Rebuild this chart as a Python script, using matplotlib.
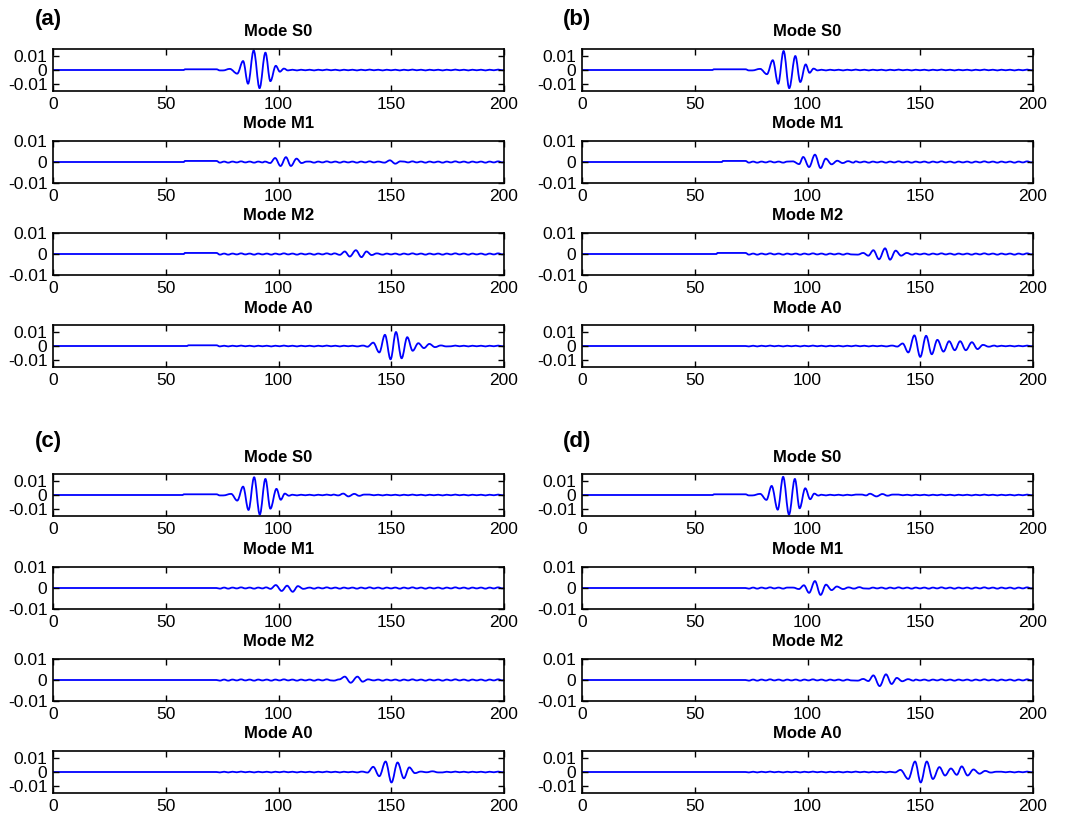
import matplotlib
matplotlib.use("Agg")
import matplotlib.pyplot as plt
from matplotlib.path import Path
from matplotlib.patches import PathPatch

plt.rcParams['font.family'] = ['Liberation Sans', 'DejaVu Sans']
plt.rcParams['axes.unicode_minus'] = False

panel_labels = ['(a)', '(b)', '(c)', '(d)']
mode_names = ['S0', 'M1', 'M2', 'A0']
x_ticks = [0, 50, 100, 150, 200]
y_ticks = [-0.01, 0, 0.01]
y_tick_labels = ['-0.01', '0', '0.01']

# start time of the small offset step before the arrivals (None = no step)
step_a = [58.0, 58.0, 58.0, 59.5]
step_b = [57.9, 62.0, 59.6, None]
step_c = [57.5, None, None, None]
step_d = [58.0, None, None, None]
step_level = 0.0005

# low-level residual ripple that runs along every trace
ripple_t = [74.0, 75.9, 77.7, 79.6, 81.5, 83.4, 85.3, 87.2, 89.2, 91.0, 92.9, 94.8,
            96.8, 98.6, 100.5, 102.4, 104.3, 106.2, 108.2, 110.0, 111.9, 113.8, 115.8,
            117.6, 119.5, 121.4, 123.3, 125.2, 127.2, 129.0, 130.9, 132.8, 134.8, 136.6,
            138.5, 140.4, 142.3, 144.2, 146.2, 148.0, 149.9, 151.8, 153.8, 155.6, 157.5,
            159.4, 161.3, 163.2, 165.2, 167.0, 168.9, 170.8, 172.8, 174.6, 176.5, 178.4,
            180.3, 182.2, 184.2, 186.0, 187.9, 189.8, 191.8, 193.6, 195.5, 197.4, 199.3]
ripple_u = [-0.0003, 0.0002, -0.0003, 0.0002, -0.0002, 0.0003, -0.0002, 0.0002,
            -0.0003, 0.0002, -0.0002, 0.0002, -0.0003, 0.0002, -0.0002, 0.0003,
            -0.0002, 0.0002, -0.0003, 0.0002, -0.0002, 0.0002, -0.0003, 0.0002,
            -0.0002, 0.0003, -0.0002, 0.0002, -0.0003, 0.0002, -0.0002, 0.0002,
            -0.0003, 0.0002, -0.0002, 0.0003, -0.0002, 0.0002, -0.0003, 0.0002,
            -0.0002, 0.0002, -0.0003, 0.0002, -0.0002, 0.0003, -0.0002, 0.0002,
            -0.0003, 0.0002, -0.0002, 0.0002, -0.0003, 0.0002, -0.0002, 0.0003,
            -0.0002, 0.0002, -0.0003, 0.0002, -0.0002, 0.0002, -0.0003, 0.0002,
            -0.0002, 0.0003, -0.0002]

# wave packets: times (us) and amplitudes of successive extrema
a_s0_t = [75.4, 78.4, 81.7, 84.3, 86.5, 89.0, 91.6, 94.2, 96.4, 98.8, 100.6, 102.4, 104.2]
a_s0_u = [-0.0003, 0.0008, -0.0026, 0.0064, -0.0098, 0.0140, -0.0130, 0.0124, -0.0080,
          0.0030, -0.0012, 0.0010, -0.0003]
a_m1_t = [94.0, 96.3, 98.5, 100.9, 103.3, 105.5, 108.0, 110.2, 112.5]
a_m1_u = [0.0002, -0.0005, 0.0019, -0.0019, 0.0023, -0.0019, 0.0016, -0.0005, 0.0002]
a_m1_t2 = [147.0, 149.4, 151.8, 154.0]
a_m1_u2 = [-0.0003, 0.0008, -0.0008, 0.0003]
a_m2_t = [124.8, 127.2, 129.4, 131.6, 134.3, 136.8, 139.0, 141.3, 143.6]
a_m2_u = [0.0003, -0.0004, 0.0012, -0.0012, 0.0018, -0.0015, 0.0012, -0.0005, 0.0003]
a_a0_t = [137.5, 139.5, 142.0, 144.7, 147.2, 149.7, 152.1, 154.6, 157.1, 159.5, 162.0,
          164.5, 166.9, 169.4, 172.0, 174.4]
a_a0_u = [0.0003, -0.0005, 0.0024, -0.0046, 0.0080, -0.0095, 0.0100, -0.0088, 0.0063,
          -0.0034, 0.0020, -0.0015, 0.0015, -0.0008, 0.0004, -0.0003]

b_s0_t = [75.5, 79.0, 82.0, 84.6, 87.0, 89.4, 91.9, 94.6, 96.8, 99.2, 100.9, 102.7, 104.5]
b_s0_u = [-0.0003, 0.0008, -0.0030, 0.0070, -0.0098, 0.0136, -0.0130, 0.0100, -0.0086,
          0.0040, -0.0020, 0.0010, -0.0003]
b_m1_t = [93.5, 96.3, 98.1, 100.7, 103.3, 105.8, 108.1, 110.7, 113.2, 115.6, 118.0, 120.3]
b_m1_u = [0.0003, -0.0010, 0.0024, -0.0024, 0.0035, -0.0029, 0.0016, -0.0011, 0.0006,
          -0.0005, 0.0004, -0.0003]
b_m2_t = [122.3, 124.7, 127.0, 129.2, 131.7, 134.4, 136.6, 139.1, 141.5, 144.0, 146.4]
b_m2_u = [-0.0003, 0.0005, -0.0008, 0.0018, -0.0025, 0.0027, -0.0027, 0.0016, -0.0008,
          0.0005, -0.0003]
b_a0_t = [137.5, 139.8, 142.2, 144.7, 147.4, 150.0, 152.6, 155.1, 157.6, 160.3, 162.8,
          165.3, 167.7, 170.2, 172.9, 175.4, 177.8, 180.4, 182.8]
b_a0_u = [0.0003, -0.0004, 0.0018, -0.0046, 0.0076, -0.0078, 0.0073, -0.0059, 0.0044,
          -0.0040, 0.0034, -0.0030, 0.0034, -0.0030, 0.0027, -0.0022, 0.0008, -0.0005,
          0.0003]

c_s0_t = [75.5, 79.0, 81.7, 84.3, 86.7, 89.2, 91.7, 94.2, 96.4, 99.1, 101.0, 102.8, 104.6]
c_s0_u = [-0.0003, 0.0008, -0.0040, 0.0060, -0.0107, 0.0127, -0.0140, 0.0115, -0.0098,
          0.0044, -0.0034, 0.0010, -0.0005]
c_s0_t2 = [124.3, 126.5, 128.7, 131.0, 133.6, 135.8, 138.0]
c_s0_u2 = [0.0003, -0.0003, 0.0010, -0.0010, 0.0008, -0.0006, 0.0003]
c_m1_t = [94.5, 96.5, 98.8, 101.4, 103.8, 106.3, 108.6, 111.0]
c_m1_u = [0.0003, -0.0004, 0.0014, -0.0014, 0.0011, -0.0018, 0.0009, -0.0004]
c_m2_t = [124.5, 127.0, 129.4, 132.0, 135.0, 137.3, 139.7]
c_m2_u = [-0.0003, 0.0003, 0.0016, -0.0013, 0.0016, -0.0008, 0.0003]
c_a0_t = [137.0, 139.5, 142.0, 144.7, 147.5, 150.1, 152.8, 155.6, 158.0, 160.5, 163.1,
          165.7, 168.3, 170.8]
c_a0_u = [0.0003, -0.0004, 0.0037, -0.0030, 0.0075, -0.0075, 0.0068, -0.0045, 0.0033,
          -0.0008, 0.0003, -0.0002, 0.0005, -0.0003]

d_s0_t = [75.5, 79.0, 81.8, 84.1, 86.8, 89.2, 91.8, 94.4, 96.5, 99.0, 101.2, 103.0, 104.8]
d_s0_u = [-0.0003, 0.0008, -0.0035, 0.0065, -0.0105, 0.0130, -0.0140, 0.0115, -0.0095,
          0.0048, -0.0030, 0.0010, -0.0004]
d_s0_t2 = [124.0, 126.0, 127.7, 130.6, 133.2, 135.5, 137.8]
d_s0_u2 = [0.0003, -0.0003, 0.0009, -0.0010, 0.0007, -0.0005, 0.0003]
d_m1_t = [93.6, 96.2, 98.4, 100.7, 103.3, 105.8, 108.2, 110.7, 113.0, 115.8, 118.2,
          120.6, 123.0, 125.0]
d_m1_u = [0.0002, -0.0005, 0.0013, -0.0023, 0.0033, -0.0033, 0.0016, -0.0010, 0.0007,
          -0.0005, 0.0003, -0.0003, 0.0004, -0.0002]
d_m2_t = [122.3, 124.7, 127.0, 129.2, 132.0, 134.8, 137.3, 139.6, 142.0, 144.6, 147.0]
d_m2_u = [-0.0003, 0.0005, -0.0005, 0.0022, -0.0029, 0.0027, -0.0019, 0.0010, -0.0006,
          0.0004, -0.0003]
d_a0_t = [136.5, 138.8, 141.2, 144.7, 147.7, 150.2, 152.9, 155.6, 158.5, 161.0, 163.6,
          166.2, 168.4, 171.0, 173.6, 176.3, 178.8, 181.3, 183.8]
d_a0_u = [0.0002, -0.0003, 0.0015, -0.0050, 0.0075, -0.0075, 0.0075, -0.0050, 0.0035,
          -0.0025, 0.0025, -0.0020, 0.0040, -0.0025, 0.0018, -0.0012, 0.0008, -0.0004,
          0.0002]

panel_steps = [step_a, step_b, step_c, step_d]
panel_packets = [
    [[(a_s0_t, a_s0_u)], [(a_m1_t, a_m1_u), (a_m1_t2, a_m1_u2)],
     [(a_m2_t, a_m2_u)], [(a_a0_t, a_a0_u)]],
    [[(b_s0_t, b_s0_u)], [(b_m1_t, b_m1_u)], [(b_m2_t, b_m2_u)], [(b_a0_t, b_a0_u)]],
    [[(c_s0_t, c_s0_u), (c_s0_t2, c_s0_u2)], [(c_m1_t, c_m1_u)],
     [(c_m2_t, c_m2_u)], [(c_a0_t, c_a0_u)]],
    [[(d_s0_t, d_s0_u), (d_s0_t2, d_s0_u2)], [(d_m1_t, d_m1_u)],
     [(d_m2_t, d_m2_u)], [(d_a0_t, d_a0_u)]],
]
y_limits = [0.015, 0.01, 0.01, 0.015]


def trace_knots(step_at, packets):
    pts = [(0.0, 0.0)]
    if step_at is None:
        pts.append((72.5, 0.0))
    else:
        pts += [(step_at, 0.0), (step_at + 0.5, step_level), (72.5, step_level)]
    spans = [(pt[0] - 0.9, pt[-1] + 0.9) for pt, _ in packets]
    for rt, ru in zip(ripple_t, ripple_u):
        if not any(lo <= rt <= hi for lo, hi in spans):
            pts.append((rt, ru))
    for pt, pu in packets:
        pts += list(zip(pt, pu))
    pts.append((200.0, 0.0))
    return sorted(pts)


def smooth_path(pts, k=0.36):
    verts = [pts[0]]
    codes = [Path.MOVETO]
    for (t0, u0), (t1, u1) in zip(pts[:-1], pts[1:]):
        dt = t1 - t0
        verts += [(t0 + k * dt, u0), (t1 - k * dt, u1), (t1, u1)]
        codes += [Path.CURVE4] * 3
    return Path(verts, codes)


W, H = 1070, 817
fig = plt.figure(figsize=(W / 100, H / 100), dpi=100)
fig.patch.set_facecolor('white')

col_left = [53, 582]
ax_w = 451
ax_h = 42
row_tops = [[49, 141, 233, 325], [474, 567, 659, 751]]
label_pos = [(35, 19), (563, 19), (35, 441), (563, 441)]

for p in range(4):
    col = p % 2
    half = p // 2
    fig.text(label_pos[p][0] / W, 1 - label_pos[p][1] / H, panel_labels[p],
             fontsize=16, fontweight='bold', ha='left', va='center')
    for m in range(4):
        top = row_tops[half][m]
        ax = fig.add_axes([col_left[col] / W, 1 - (top + ax_h) / H, ax_w / W, ax_h / H])
        pts = trace_knots(panel_steps[p][m], panel_packets[p][m])
        ax.add_patch(PathPatch(smooth_path(pts), fill=False, edgecolor='#0000ff',
                               linewidth=1.3, joinstyle='round', capstyle='round'))
        ax.set_xlim(0, 200)
        ax.set_ylim(-y_limits[m], y_limits[m])
        ax.set_xticks(x_ticks)
        ax.set_xticklabels([str(v) for v in x_ticks])
        ax.set_yticks(y_ticks)
        ax.set_yticklabels(y_tick_labels)
        ax.tick_params(direction='in', top=True, right=True, length=4, width=1.0,
                       labelsize=12.5, colors='black')
        ax.tick_params(axis='x', pad=4.5)
        ax.tick_params(axis='y', pad=4)
        for s in ax.spines.values():
            s.set_linewidth(1.2)
        ax.set_title('Mode ' + mode_names[m], fontsize=12, fontweight='bold', pad=9)

fig.savefig('out.png', dpi=100)
